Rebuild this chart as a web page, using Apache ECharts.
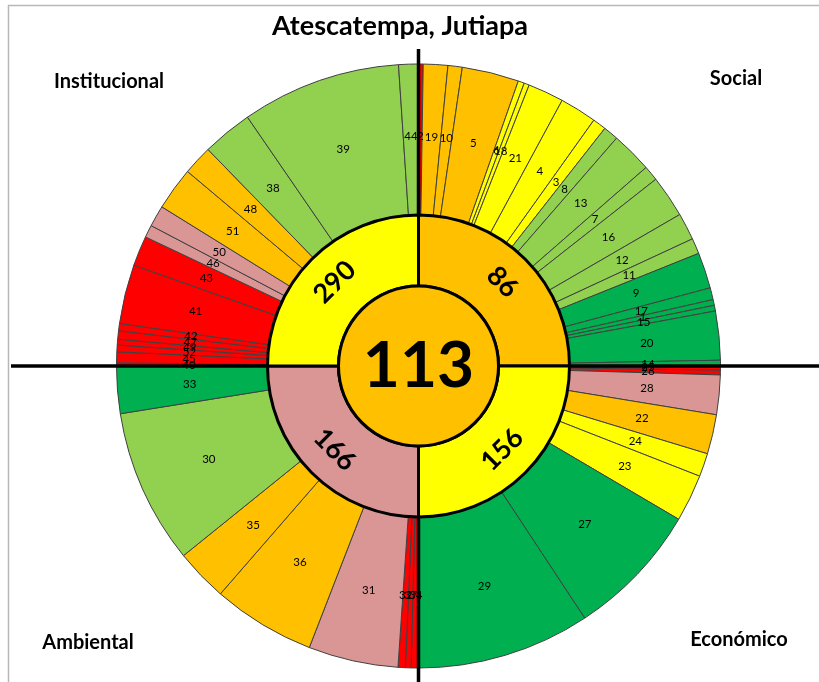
<!DOCTYPE html>
<html><head><meta charset="utf-8">
<script src="https://cdn.jsdelivr.net/npm/echarts@6/dist/echarts.min.js"></script>
<style>html,body{margin:0;padding:0;background:#fff}#c{width:819px;height:682px}</style>
</head><body><div id="c"></div>
<script>
// ---------- data ----------
const chartTitle = 'Atescatempa, Jutiapa';
const overallScore = 113;
const overallRating = 'O';
const dimensions = ['Social', 'Económico', 'Ambiental', 'Institucional'];
const dimensionScores = [86, 156, 166, 290];
const dimensionRatings = ['O', 'Y', 'P', 'Y'];

const socialIds = [2, 19, 10, 5, 6, 18, 21, 4, 3, 8, 13, 7, 16, 12, 11, 9, 17, 1, 15, 20, 14];
const socialShares = [0.9, 4.7, 2.75, 10.95, 1.2, 1.0, 6.9, 7.1, 2.6, 2.9, 7.9, 2.9, 8.1, 5.2, 3.0, 6.9, 2.3, 1.1, 1.1, 9.4, 1.1];
const socialRatings = ['R','O','O','O','Y','Y','Y','Y','Y','L','L','L','L','L','L','G','G','G','G','G','G'];

const economicIds = [25, 26, 28, 22, 24, 23, 27, 29];
const economicShares = [0.8, 0.9, 7.6, 7.6, 4.5, 9.1, 26.1, 33.4];
const economicRatings = ['R','R','P','O','Y','Y','G','G'];

const environmentalIds = [34, 37, 32, 31, 36, 35, 30, 33];
const environmentalShares = [1.4, 1.1, 1.4, 17.3, 19.8, 10.1, 29.8, 9.1];
const environmentalRatings = ['R','R','R','P','O','O','L','G'];

const institutionalIds = [40, 45, 52, 49, 47, 42, 41, 43, 46, 50, 51, 48, 38, 39, 44];
const institutionalShares = [0.6, 2.1, 1.3, 1.1, 1.6, 1.4, 11.4, 5.8, 2.4, 4.1, 8.3, 5.7, 9.7, 30.7, 3.8];
const institutionalRatings = ['R','R','R','R','R','R','R','R','P','P','O','O','L','L','L'];

// ---------- styles ----------
const palette = { R: '#FF0000', P: '#D99694', O: '#FFC000', Y: '#FFFF00', L: '#92D050', G: '#00B050' };
const FONT = 'Lato, "Open Sans", sans-serif';
const cx = 418.5, cy = 366;

const groups = [
  [socialIds, socialShares, socialRatings],
  [economicIds, economicShares, economicRatings],
  [environmentalIds, environmentalShares, environmentalRatings],
  [institutionalIds, institutionalShares, institutionalRatings]
];

const outerData = [];
const innerData = [];
groups.forEach((g, gi) => {
  let sum = 0;
  g[0].forEach((id, i) => {
    sum += g[1][i];
    outerData.push({ name: String(id), value: g[1][i], itemStyle: { color: palette[g[2][i]] } });
  });
  innerData.push({ name: dimensions[gi], value: sum, score: dimensionScores[gi],
    itemStyle: { color: palette[dimensionRatings[gi]] } });
});

function label(text, x, y, size) {
  return { type: 'text', silent: true, z: 10, x: x, y: y,
    style: { text: text, font: 'bold ' + size + 'px ' + FONT, fill: '#000',
      align: 'center', verticalAlign: 'middle', textAlign: 'center', textVerticalAlign: 'middle' } };
}

const chart = echarts.init(document.getElementById('c'), null, { renderer: 'canvas' });
chart.setOption({
  animation: false,
  backgroundColor: '#fff',
  graphic: [
    { type: 'rect', silent: true, z: 0, shape: { x: 8.5, y: 5.5, width: 900, height: 900 },
      style: { fill: null, stroke: '#b8b8b8', lineWidth: 1.5 } },
    { type: 'line', silent: true, z: 5, shape: { x1: cx, y1: 49, x2: cx, y2: 682 },
      style: { stroke: '#000', lineWidth: 3.5 } },
    { type: 'line', silent: true, z: 5, shape: { x1: 11, y1: cy, x2: 819, y2: cy },
      style: { stroke: '#000', lineWidth: 3.5 } },
    label(chartTitle, 400, 26, 27),
    label(dimensions[3], 109, 82, 20),
    label(dimensions[0], 736, 79, 20),
    label(dimensions[2], 88, 643, 20),
    label(dimensions[1], 739, 640, 20)
  ],
  series: [
    {
      type: 'pie', z: 2, silent: true, center: [cx, cy], radius: [151, 302],
      startAngle: 90, clockwise: true, avoidLabelOverlap: false, minShowLabelAngle: 0,
      itemStyle: { borderColor: '#404040', borderWidth: 1 },
      label: { show: true, position: 'inside', formatter: '{b}', fontSize: 11.5, color: '#000', fontFamily: FONT },
      labelLine: { show: false },
      labelLayout: { hideOverlap: false },
      emphasis: { disabled: true },
      data: outerData
    },
    {
      type: 'pie', z: 6, silent: true, center: [cx, cy], radius: [80, 151],
      startAngle: 90, clockwise: true, avoidLabelOverlap: false,
      itemStyle: { borderColor: '#000', borderWidth: 3 },
      label: { show: true, position: 'inside', rotate: 'tangential',
        formatter: p => String(p.data.score), fontSize: 27, fontWeight: 'bold', color: '#000', fontFamily: FONT },
      labelLine: { show: false },
      emphasis: { disabled: true },
      data: innerData
    },
    {
      type: 'pie', z: 7, silent: true, center: [cx, cy], radius: [0, 80],
      itemStyle: { borderColor: '#000', borderWidth: 3 },
      label: { show: true, position: 'center', formatter: '{c}', fontSize: 64, fontWeight: 'bold', color: '#000', fontFamily: FONT },
      labelLine: { show: false },
      emphasis: { disabled: true },
      data: [{ name: 'Total', value: overallScore, itemStyle: { color: palette[overallRating] } }]
    }
  ]
});
</script></body></html>
